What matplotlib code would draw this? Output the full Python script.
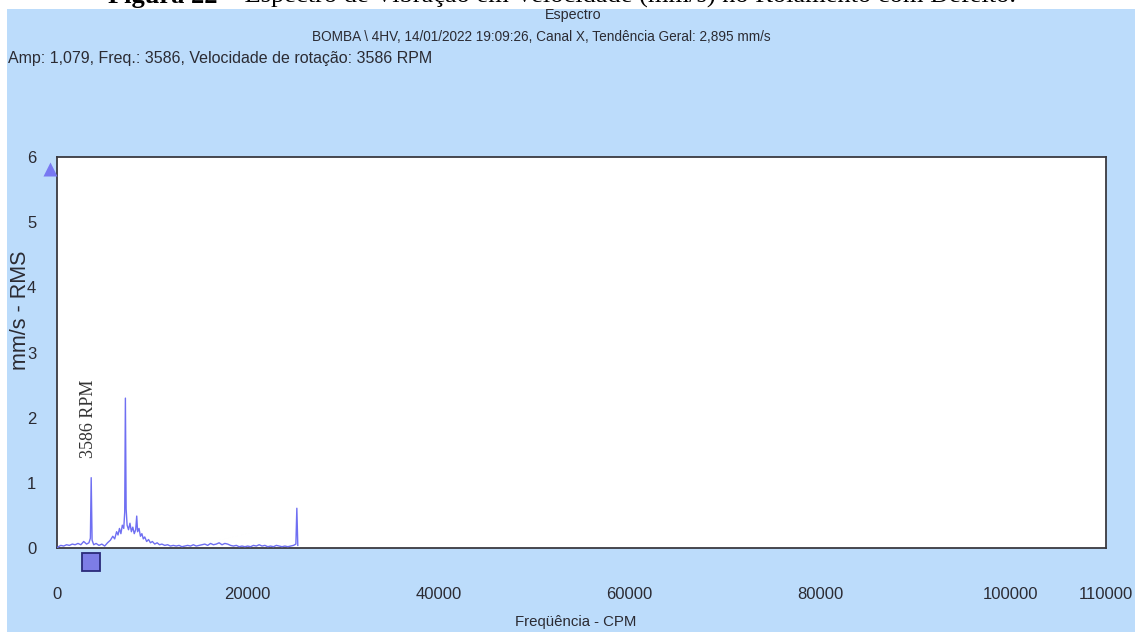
import matplotlib
matplotlib.use('Agg')
import matplotlib.pyplot as plt
from matplotlib.patches import Rectangle
from matplotlib.transforms import offset_copy

# ---------------- data ----------------
freq_cpm = [0, 150, 400, 700, 1000, 1300, 1600, 1900, 2200, 2500, 2800, 3100,
            3350, 3500, 3586, 3680, 3850, 4100, 4400, 4700, 5000, 5300, 5600,
            5850, 6050, 6250, 6400, 6550, 6700, 6850, 7000, 7100, 7172, 7250,
            7350, 7500, 7650, 7800, 7950, 8100, 8250, 8360, 8450, 8600, 8750,
            8900, 9050, 9200, 9400, 9600, 9800, 10000, 10250, 10500, 10750,
            11000, 11300, 11600, 11900, 12200, 12500, 12800, 13100, 13400,
            13700, 14000, 14300, 14600, 14900, 15200, 15500, 15800, 16100,
            16400, 16700, 17000, 17300, 17600, 17900, 18200, 18500, 18800,
            19100, 19400, 19700, 20000, 20300, 20600, 20900, 21200, 21500,
            21800, 22100, 22400, 22700, 23000, 23300, 23600, 23900, 24200,
            24500, 24800, 25050, 25150, 25250]
amp_mms = [0.00, 0.02, 0.04, 0.03, 0.05, 0.04, 0.06, 0.05, 0.07, 0.05, 0.10, 0.06,
           0.08, 0.15, 1.079, 0.12, 0.05, 0.07, 0.04, 0.06, 0.03, 0.08, 0.12,
           0.18, 0.14, 0.25, 0.20, 0.30, 0.22, 0.35, 0.30, 0.55, 2.30, 0.60,
           0.35, 0.28, 0.38, 0.25, 0.32, 0.22, 0.28, 0.49, 0.25, 0.30, 0.18,
           0.22, 0.14, 0.17, 0.10, 0.13, 0.08, 0.10, 0.06, 0.08, 0.05,
           0.06, 0.04, 0.05, 0.03, 0.04, 0.03, 0.04, 0.02, 0.03,
           0.04, 0.03, 0.05, 0.03, 0.04, 0.05, 0.06, 0.04, 0.07,
           0.05, 0.06, 0.08, 0.05, 0.07, 0.06, 0.04, 0.03, 0.04,
           0.02, 0.03, 0.02, 0.03, 0.02, 0.04, 0.03, 0.05, 0.03,
           0.04, 0.02, 0.03, 0.02, 0.04, 0.03, 0.02, 0.03, 0.02,
           0.03, 0.04, 0.06, 0.61, 0.04]
x_ticks = [0, 20000, 40000, 60000, 80000, 100000, 110000]
x_tick_labels = ['0', '20000', '40000', '60000', '80000', '100000', '110000']
y_ticks = [0, 1, 2, 3, 4, 5, 6]
x_limits = [0, 110000]
y_limits = [0, 6]
rotation_cpm = 3586
rotation_label = '3586 RPM'

caption_bold = 'Figura 22'
caption_rest = ' – Espectro de Vibração em Velocidade (mm/s) no Rolamento com Defeito.'
title = 'Espectro'
subtitle = 'BOMBA \\ 4HV, 14/01/2022 19:09:26, Canal X, Tendência Geral: 2,895 mm/s'
info_line = 'Amp: 1,079, Freq.: 3586, Velocidade de rotação: 3586 RPM'
x_label = 'Freqüência - CPM'
y_label = 'mm/s - RMS'

# ---------------- styling ----------------
W, H = 1135, 632
BG = '#bcdcfb'
LINE = '#6f6ff2'
TXT = '#2b2b33'
SANS = ['Liberation Sans', 'DejaVu Sans']
SERIF = ['Liberation Serif', 'DejaVu Serif']

fig = plt.figure(figsize=(W / 100, H / 100), dpi=100)
fig.patch.set_facecolor('white')
fig.patches.append(Rectangle((7 / W, 0), 1 - 7 / W, (H - 9) / H,
                             transform=fig.transFigure, facecolor=BG,
                             edgecolor='none', zorder=-10))

L, R, T, B = 57, 1106, 157, 548
ax = fig.add_axes([L / W, (H - B) / H, (R - L) / W, (B - T) / H])
ax.set_zorder(1)
ax.set_facecolor('white')
ax.plot(freq_cpm, amp_mms, color=LINE, lw=1.0, zorder=3)
ax.set_xlim(*x_limits)
ax.set_ylim(*y_limits)
for s in ax.spines.values():
    s.set_color('#3a3a40')
    s.set_linewidth(1.3)

ax.set_xticks(x_ticks)
ax.set_xticklabels(x_tick_labels, family=SANS, fontsize=12, color=TXT)
ax.set_yticks(y_ticks)
ax.set_yticklabels([str(v) for v in y_ticks], family=SANS, fontsize=12, color=TXT)
ax.tick_params(axis='x', length=0, pad=28)
ax.tick_params(axis='y', length=0, pad=15)

# rotation marker text
ax.text(rotation_cpm, 1.99, rotation_label, rotation=90, ha='center', va='center',
        family=SERIF, fontsize=13, color='#333333',
        transform=offset_copy(ax.transData, fig=fig, x=-3, y=0, units='dots'))
# square cursor below axis
ax.plot([rotation_cpm], [0], marker='s', ms=13, mfc='#7d7de6', mec='#2a2a7a',
        mew=1.3, clip_on=False, zorder=5,
        transform=offset_copy(ax.transData, fig=fig, x=0, y=-14, units='dots'))
# scale triangle at top-left
ax.plot([0], [6], marker='^', ms=10, mfc='#7878f2', mec='none', clip_on=False,
        zorder=5, transform=offset_copy(ax.transData, fig=fig, x=-7, y=-12, units='dots'))

# axis labels
fig.text(576 / W, (H - 622) / H, x_label, ha='center', va='center',
         family=SANS, fontsize=10.8, color=TXT)
fig.text(21 / W, (H - 310) / H, y_label, ha='center', va='center', rotation=90,
         family=SANS, fontsize=15.5, color=TXT)

# titles
fig.text(573 / W, (H - 15) / H, title, ha='center', va='center',
         family=SANS, fontsize=10.3, color=TXT)
fig.text(541 / W, (H - 37) / H, subtitle, ha='center', va='center',
         family=SANS, fontsize=9.8, color=TXT)
fig.text(8 / W, (H - 58) / H, info_line, ha='left', va='center',
         family=SANS, fontsize=11.5, color=TXT)

# partially cut caption at very top
cb = fig.text(108 / W, (H - 3) / H, caption_bold, ha='left', va='baseline',
              family=SERIF, fontsize=19, weight='bold', color='black', zorder=10)
fig.canvas.draw()
bb = cb.get_window_extent()
fig.text(bb.x1 / W, (H - 3) / H, caption_rest, ha='left', va='baseline',
         family=SERIF, fontsize=19, color='black', zorder=10)

fig.savefig('out.png', dpi=100, facecolor=fig.get_facecolor())
